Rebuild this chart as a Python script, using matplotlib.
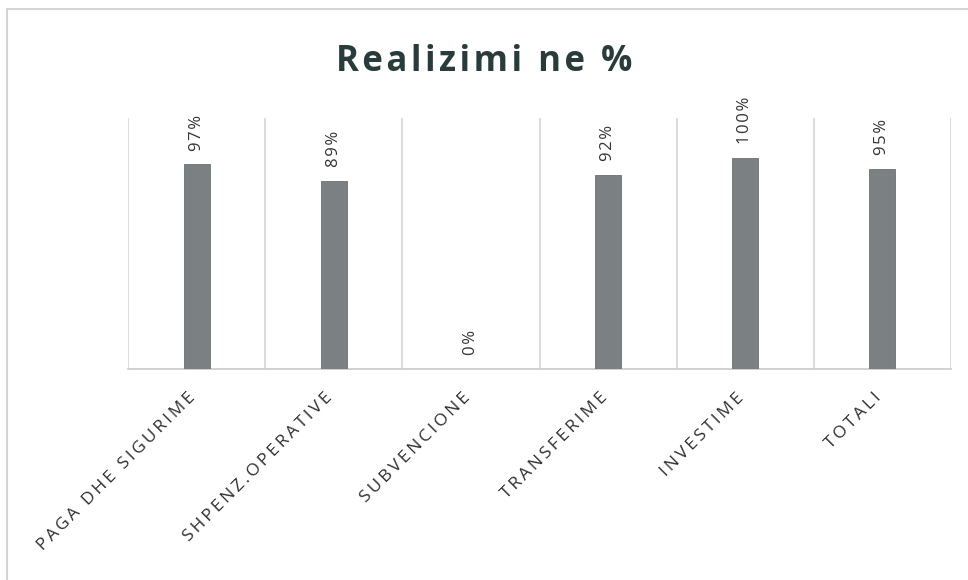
import matplotlib.pyplot as plt
import matplotlib.transforms as mtransforms
import numpy as np
from matplotlib.patches import Rectangle

categories = ["PAGA DHE SIGURIME", "SHPENZ.OPERATIVE", "SUBVENCIONE",
              "TRANSFERIME", "INVESTIME", "TOTALI"]
values = [0.97, 0.89, 0.0, 0.92, 1.00, 0.95]
labels = ["97%", "89%", "0%", "92%", "100%", "95%"]

plt.rcParams['font.family'] = ['Open Sans', 'DejaVu Sans']


def spaced(s, sep="\u2009"):
    # the scanned chart has wide letter spacing
    return sep.join(s)


fig = plt.figure(figsize=(9.68, 5.8), dpi=100)
# outer chart frame
fig.patches.append(Rectangle((7 / 968, -0.01), 1.0, 1 - 9 / 580 + 0.01,
                             transform=fig.transFigure, fill=False,
                             edgecolor="#d4d4d4", linewidth=1.5))

ax = fig.add_axes([128 / 968, 1 - 369 / 580, (951 - 128) / 968, (369 - 118) / 580])
x = np.arange(len(categories))
ax.bar(x, values, width=0.19, color="#7b8182", edgecolor="#6a6f70", linewidth=0.6, zorder=3)
ax.set_xlim(-0.5, len(categories) - 0.5)
ax.set_ylim(0, 1.19)

# category separators
for b in np.arange(-0.5, len(categories), 1.0):
    ax.axvline(b, color="#d6d6d6", linewidth=1.2, zorder=1)

for xi, v, t in zip(x, values, labels):
    ax.annotate(spaced(t, "\u200a"), (xi, v), xytext=(0, 10), textcoords="offset points",
                rotation=90, ha="center", va="bottom", fontsize=12, color="#333333")

for s in ["left", "right", "top"]:
    ax.spines[s].set_visible(False)
ax.spines["bottom"].set_color("#c8c8c8")
ax.spines["bottom"].set_linewidth(1.2)
ax.set_yticks([])
ax.set_xticks(x)
ax.set_xticklabels([spaced(c) for c in categories], rotation=45, ha="right",
                   rotation_mode="anchor", fontsize=12.5, color="#2e2e2e")
ax.tick_params(axis="x", length=0, pad=15)
shift = mtransforms.ScaledTranslation(-9 / 100, 0, fig.dpi_scale_trans)
for lab in ax.get_xticklabels():
    lab.set_transform(lab.get_transform() + shift)

fig.text(0.5, 1 - 62 / 580, spaced("Realizimi ne %", "\u200a"), ha="center", va="center",
         fontsize=25, fontweight="bold", color="#2a3b3b")

fig.savefig("out.png", dpi=100)
